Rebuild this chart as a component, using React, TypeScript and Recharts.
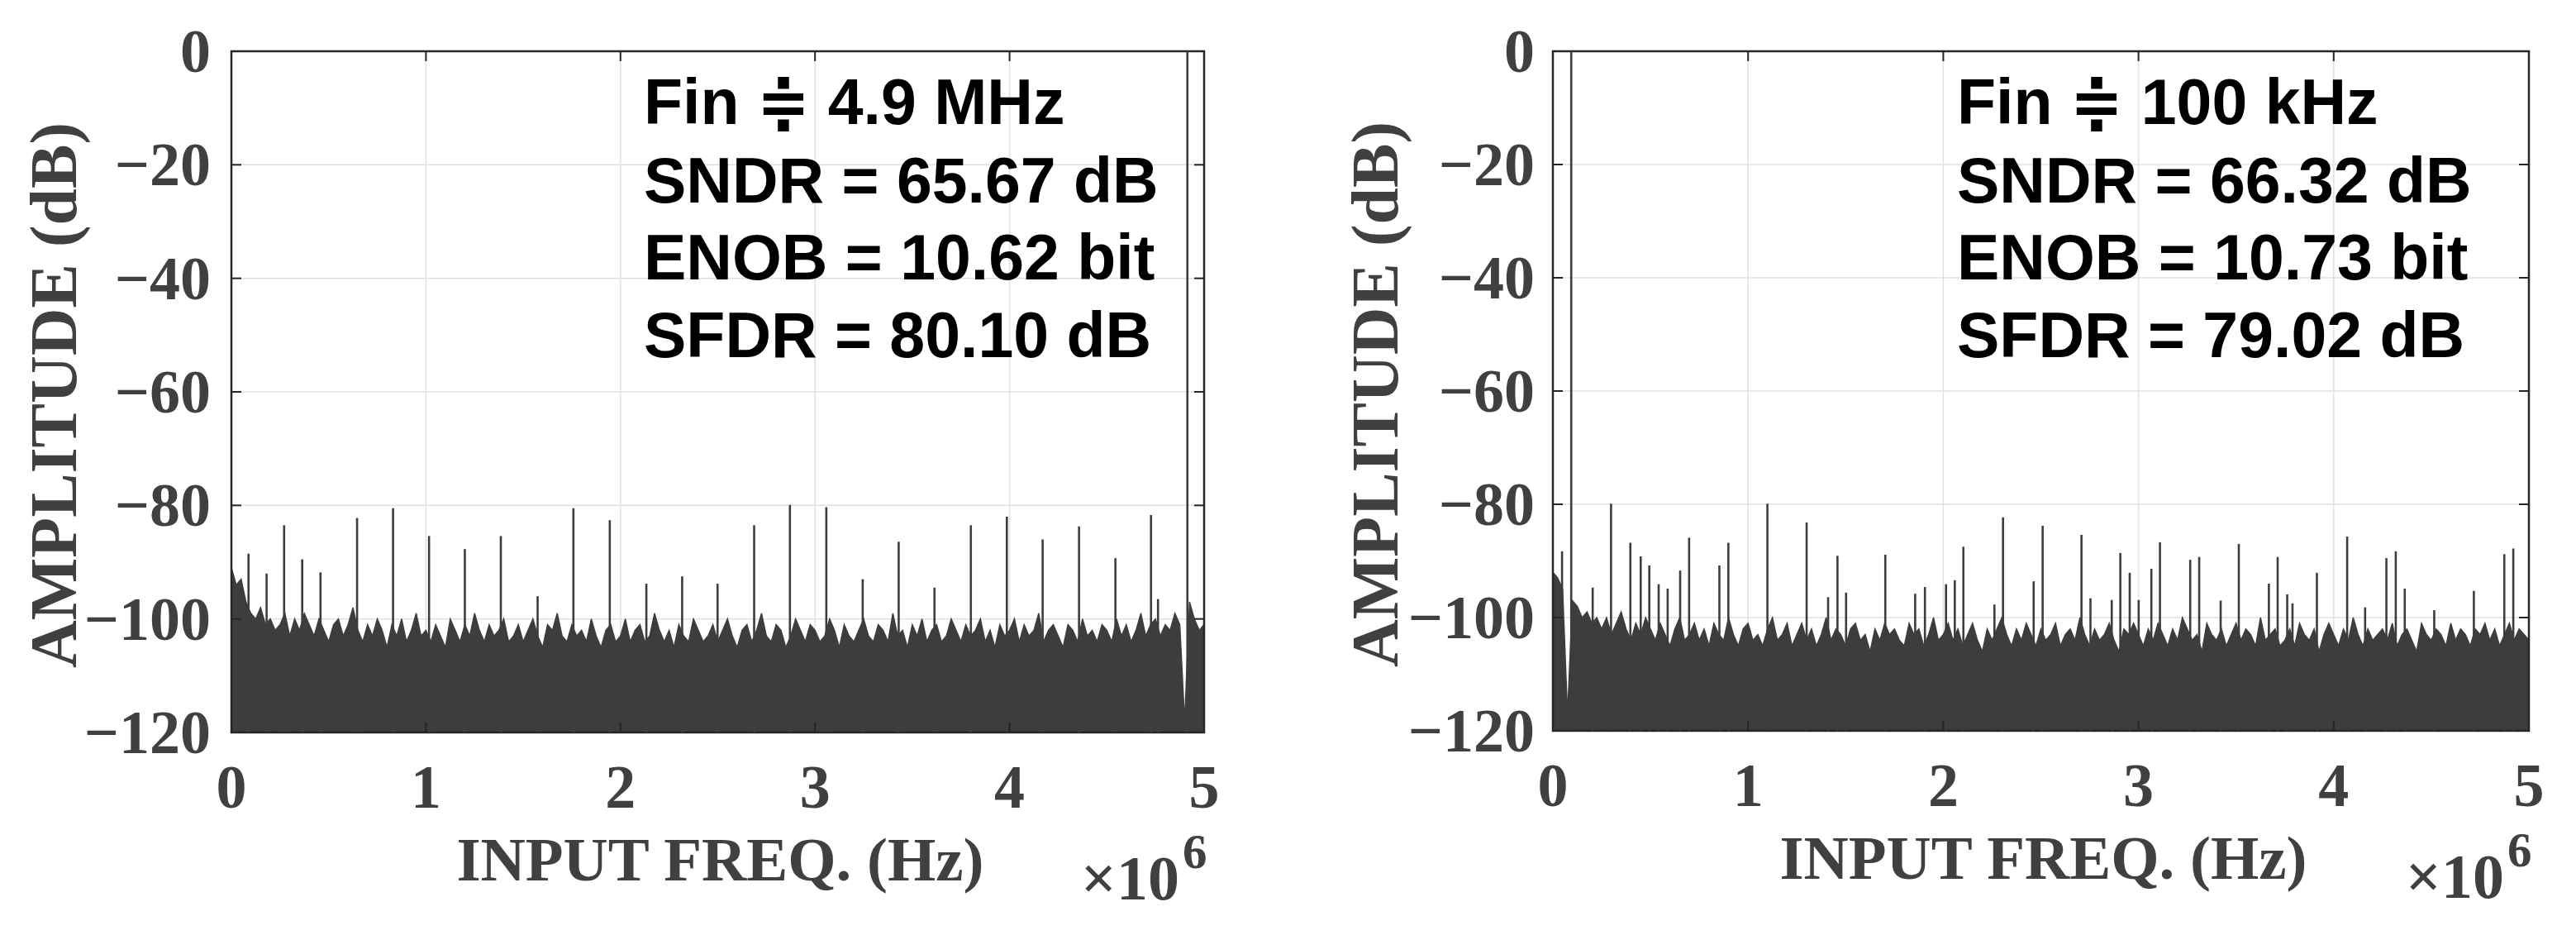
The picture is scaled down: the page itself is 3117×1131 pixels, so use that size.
import { ComposedChart, Area, Scatter, XAxis, YAxis, CartesianGrid, ReferenceArea, Customized } from 'recharts';

// FFT spectra of the ADC output, two input tones. Frequencies in MHz (axis is x10^6 Hz).
const X_TICKS = [0, 1, 2, 3, 4, 5];
const Y_TICKS = [0, -20, -40, -60, -80, -100, -120];
const NOISE_STEP = 0.025;

// noise floor top, one value per 25 kHz bin
const LEFT_NOISE = [
  -91, -94, -93, -97, -99, -100, -98, -101, -100, -102,
  -101, -99, -103, -100, -102, -99, -101, -103, -100, -102,
  -104, -101, -100, -103, -101, -98, -102, -104, -101, -103,
  -100, -102, -105, -101, -103, -100, -104, -102, -99, -103,
  -102, -104, -101, -103, -105, -100, -102, -104, -101, -103,
  -99, -102, -104, -101, -103, -102, -100, -104, -103, -101,
  -104, -102, -100, -103, -105, -101, -102, -99, -103, -104,
  -101, -103, -102, -104, -100, -103, -105, -102, -101, -104,
  -103, -100, -104, -102, -101, -104, -103, -99, -102, -104,
  -102, -105, -101, -103, -104, -100, -102, -104, -103, -101,
  -104, -102, -100, -103, -105, -102, -101, -104, -102, -99,
  -103, -104, -101, -102, -105, -103, -100, -102, -104, -101,
  -102, -104, -103, -100, -102, -105, -101, -103, -104, -102,
  -100, -103, -104, -101, -102, -104, -99, -103, -102, -105,
  -101, -103, -100, -104, -102, -101, -104, -103, -100, -102,
  -104, -101, -103, -102, -100, -104, -102, -105, -101, -103,
  -102, -100, -104, -101, -103, -102, -99, -104, -102, -101,
  -103, -105, -101, -102, -104, -100, -103, -102, -104, -101,
  -102, -104, -100, -103, -101, -104, -102, -99, -103, -101,
  -100, -103, -101, -102, -99, -101, -118, -97, -100, -102,
  -101,
];

const RIGHT_NOISE = [
  -92, -93, -95, -117, -97, -98, -100, -99, -101, -100,
  -102, -100, -103, -101, -99, -102, -104, -101, -103, -100,
  -102, -104, -101, -103, -105, -102, -100, -104, -103, -101,
  -104, -102, -105, -101, -103, -104, -100, -103, -105, -102,
  -101, -104, -103, -105, -102, -100, -104, -103, -101, -105,
  -103, -101, -104, -102, -105, -103, -100, -104, -102, -103,
  -105, -102, -101, -104, -103, -106, -102, -104, -101, -103,
  -102, -104, -105, -101, -103, -102, -105, -103, -100, -104,
  -103, -101, -104, -102, -105, -103, -101, -104, -106, -102,
  -104, -102, -100, -103, -105, -102, -104, -101, -103, -105,
  -102, -104, -103, -101, -105, -103, -102, -104, -100, -103,
  -105, -102, -104, -103, -101, -104, -106, -102, -103, -101,
  -103, -105, -102, -104, -101, -103, -105, -102, -104, -100,
  -102, -104, -103, -106, -101, -103, -104, -102, -105, -103,
  -101, -104, -102, -103, -105, -100, -104, -103, -102, -105,
  -104, -102, -105, -101, -103, -104, -102, -106, -103, -101,
  -103, -105, -102, -104, -100, -103, -105, -102, -104, -103,
  -102, -104, -101, -105, -103, -102, -104, -106, -101, -103,
  -104, -102, -103, -105, -101, -104, -102, -103, -105, -102,
  -103, -101, -104, -102, -105, -103, -101, -104, -102, -103,
  -104,
];

// [MHz, dB] for the tone and spurs
const LEFT_SPURS = [
  [0.088, -88.5], [0.181, -92], [0.271, -83.5], [0.364, -89.5], [0.458, -91.8],
  [0.646, -82.2], [0.831, -80.5], [1.016, -85.4], [1.2, -87.7], [1.385, -85.4],
  [1.574, -96], [1.758, -80.5], [1.945, -82.6], [2.133, -93.8], [2.317, -92.5],
  [2.499, -93.8], [2.687, -83.5], [2.871, -79.9], [3.058, -80.3], [3.245, -93],
  [3.43, -86.4], [3.614, -94.5], [3.801, -83.5], [3.986, -82], [4.17, -86],
  [4.357, -83.7], [4.544, -89.3], [4.727, -81.7], [4.763, -96.5], [4.914, 0],
];

const RIGHT_SPURS = [
  [0.047, -88.3], [0.094, 0], [0.204, -94.7], [0.298, -79.9], [0.397, -86.8],
  [0.45, -89.2], [0.494, -90.8], [0.542, -94.1], [0.588, -94.9], [0.652, -91.7],
  [0.698, -85.9], [0.853, -90.8], [0.899, -86.8], [1.099, -79.9], [1.3, -83.2],
  [1.41, -96.4], [1.458, -89.1], [1.502, -95.6], [1.703, -88.9], [1.856, -95.8],
  [1.906, -94.6], [2.014, -94.1], [2.059, -93.4], [2.103, -87.5], [2.262, -97.7],
  [2.306, -82.3], [2.463, -93.6], [2.509, -83.8], [2.708, -85.4], [2.754, -96.6],
  [2.863, -96.9], [2.907, -88.6], [2.955, -92.1], [3.001, -96.9], [3.066, -91.4],
  [3.11, -86.7], [3.265, -89.8], [3.311, -89.3], [3.421, -97], [3.514, -87],
  [3.668, -94], [3.713, -89.3], [3.762, -95.9], [3.789, -97.5], [3.914, -92.1],
  [4.069, -85.7], [4.161, -98.2], [4.27, -89.5], [4.318, -88.3], [4.364, -94.9],
  [4.515, -98.7], [4.718, -95.3], [4.874, -88.8], [4.92, -87.8],
];

const LEFT_TEXT = ['Fin \u2251 4.9 MHz', 'SNDR = 65.67 dB', 'ENOB = 10.62 bit', 'SFDR = 80.10 dB'];
const RIGHT_TEXT = ['Fin \u2251 100 kHz', 'SNDR = 66.32 dB', 'ENOB = 10.73 bit', 'SFDR = 79.02 dB'];

const INK = '#404040';
const TRACE = '#3d3d3d';
const FRAME = '#262626';
const SERIF = "'Liberation Serif', 'Times New Roman', serif";
const SANS = "'Liberation Sans', Arial, 'DejaVu Sans', sans-serif";
const TEXT_BASELINES = [150, 245, 338, 432];

const fmtY = (v: number) => (v < 0 ? `\u2212${Math.abs(v)}` : `${v}`);

type Plot = { left: number; right: number; top: number; bottom: number };

function Spectrum({ width, height, plot, noise, spurs, lines, textX, yGap }: {
  width: number; height: number; plot: Plot; noise: number[]; spurs: number[][];
  lines: string[]; textX: number; yGap: number;
}) {
  const noiseRows = noise.map((db, i) => ({ f: i * NOISE_STEP, db }));
  const spurRows = spurs.map(([f, db]) => ({ f, db }));
  const midX = (plot.left + plot.right) / 2;
  const midY = (plot.top + plot.bottom) / 2;

  const yTick = (props: any) => {
    const { y, payload } = props;
    return (
      <g>
        <line x1={plot.left} x2={plot.left + 12} y1={y} y2={y} stroke={FRAME} strokeWidth={2} />
        <line x1={plot.right - 12} x2={plot.right} y1={y} y2={y} stroke={FRAME} strokeWidth={2} />
        <text x={plot.left - yGap} y={y} dy="0.34em" textAnchor="end" fill={INK}
          fontFamily={SERIF} fontWeight="bold" fontSize={74}>{fmtY(payload.value)}</text>
      </g>
    );
  };

  const xTick = (props: any) => {
    const { x, payload } = props;
    return (
      <g>
        <line x1={x} x2={x} y1={plot.bottom} y2={plot.bottom - 12} stroke={FRAME} strokeWidth={2} />
        <line x1={x} x2={x} y1={plot.top} y2={plot.top + 12} stroke={FRAME} strokeWidth={2} />
        <text x={x} y={plot.bottom + 91} textAnchor="middle" fill={INK}
          fontFamily={SERIF} fontWeight="bold" fontSize={74}>{payload.value}</text>
      </g>
    );
  };

  const xTitle = () => (
    <g>
      <text x={midX + 3} y={plot.bottom + 179} textAnchor="middle" fill={INK}
        fontFamily={SERIF} fontWeight="bold" fontSize={75}>INPUT FREQ. (Hz)</text>
      <text x={plot.right - 30} y={plot.bottom + 202} textAnchor="end" fill={INK}
        fontFamily={SERIF} fontWeight="bold" fontSize={76}>{'\u00d710'}</text>
      <text x={plot.right - 26} y={plot.bottom + 164} textAnchor="start" fill={INK}
        fontFamily={SERIF} fontWeight="bold" fontSize={59}>6</text>
    </g>
  );

  const yTitle = () => {
    const tx = plot.left - 188;
    const ty = midY + 4;
    return (
      <text x={tx} y={ty} transform={`rotate(-90, ${tx}, ${ty})`} textAnchor="middle" fill={INK}
        fontFamily={SERIF} fontWeight="bold" fontSize={80}>AMPLITUDE (dB)</text>
    );
  };

  // each spur / tone drawn as a thin stem from its level down to the -120 dB floor
  const stem = (props: any) => {
    const { cx, cy } = props;
    if (cx == null || cy == null) return <g />;
    return <line x1={cx} x2={cx} y1={cy} y2={plot.bottom} stroke={TRACE} strokeWidth={2.6} />;
  };

  const Annotation = () => (
    <g>
      {lines.map((t, i) => (
        <text key={t} x={textX} y={TEXT_BASELINES[i]} fill="#000" fontFamily={SANS}
          fontWeight="bold" fontSize={77}>{t}</text>
      ))}
    </g>
  );

  return (
    <ComposedChart width={width} height={height}
      margin={{ top: plot.top, right: width - plot.right, bottom: 0, left: 0 }}>
      <CartesianGrid stroke="#e0e0e0" strokeWidth={1.5} />
      <XAxis dataKey="f" type="number" domain={[0, 5]} ticks={X_TICKS} interval={0}
        allowDataOverflow height={height - plot.bottom} axisLine={false} tickLine={false}
        tickSize={0} tick={xTick} label={xTitle} />
      <YAxis dataKey="db" type="number" domain={[-120, 0]} ticks={Y_TICKS} interval={0} allowDataOverflow
        width={plot.left} axisLine={false} tickLine={false} tickSize={0} tick={yTick} label={yTitle} />
      <Area data={noiseRows} type="linear" dataKey="db" baseValue={-120} stroke={TRACE} strokeWidth={1.4}
        fill={TRACE} fillOpacity={1} dot={false} activeDot={false} isAnimationActive={false} />
      <Scatter data={spurRows} dataKey="db" shape={stem} isAnimationActive={false} />
      <ReferenceArea x1={0} x2={5} y1={-120} y2={0} fill="none" fillOpacity={0}
        stroke={FRAME} strokeWidth={2.5} />
      <Customized component={<Annotation />} />
    </ComposedChart>
  );
}

export default function App() {
  return (
    <div style={{ position: 'absolute', left: 0, top: 0, width: 3117, height: 1131, background: '#fff' }}>
      <div style={{ position: 'absolute', left: 0, top: 0 }}>
        <Spectrum width={1560} height={1131} plot={{ left: 280, right: 1457, top: 62, bottom: 886 }}
          noise={LEFT_NOISE} spurs={LEFT_SPURS} lines={LEFT_TEXT} textX={779} yGap={25} />
      </div>
      <div style={{ position: 'absolute', left: 1560, top: 0 }}>
        <Spectrum width={1557} height={1131} plot={{ left: 319, right: 1500, top: 62, bottom: 884 }}
          noise={RIGHT_NOISE} spurs={RIGHT_SPURS} lines={RIGHT_TEXT} textX={808} yGap={22} />
      </div>
    </div>
  );
}
